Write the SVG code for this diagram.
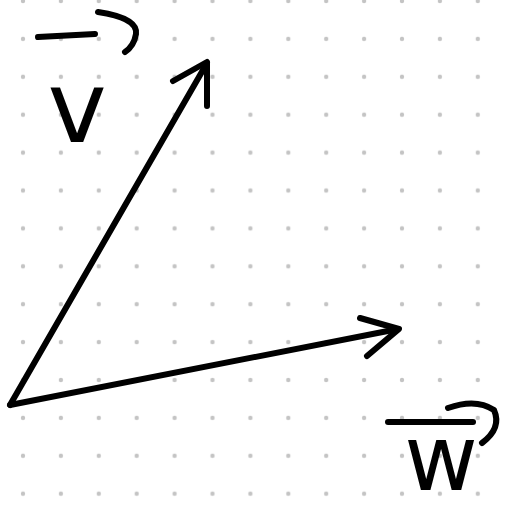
<svg xmlns="http://www.w3.org/2000/svg" width="506" height="512" viewBox="0 0 506 512">
<style>
.ink{fill:none;stroke:#000;stroke-width:6;stroke-linecap:round;stroke-linejoin:round}
.lbl{font-family:"DejaVu Sans",sans-serif;font-size:100px;fill:#000;text-anchor:middle}
</style>
<defs>
<pattern id="dots" patternUnits="userSpaceOnUse" x="4.05" y="-17.95" width="37.9" height="37.9">
<circle cx="18.95" cy="18.95" r="2.2" fill="#c4c4c4"/>
</pattern>
</defs>
<rect width="506" height="512" fill="#fff"/>
<rect id="grid" width="506" height="512" fill="url(#dots)"/>
<g id="connectors">
<g id="vector-v">
<path class="ink" d="M10 405 L207 63"/>
<path class="ink" d="M173 81 L207 62 L207 106"/>
</g>
<g id="vector-w">
<path class="ink" d="M10 405 L398 329"/>
<path class="ink" d="M360 318 L399 329 L367 356"/>
</g>
</g>
<g id="label-v">
<path class="ink" d="M38 37 L95 34"/>
<path class="ink" d="M98 12 Q138 18 136 34 Q134 46 125 52"/>
<text class="lbl" x="77" y="142">v</text>
</g>
<g id="label-w">
<path class="ink" d="M388 422 L473 422"/>
<path class="ink" d="M448 408 Q476 398 494 410 Q502 428 482 443"/>
<text class="lbl" x="441" y="490" style="font-size:90px">w</text>
</g>
</svg>
